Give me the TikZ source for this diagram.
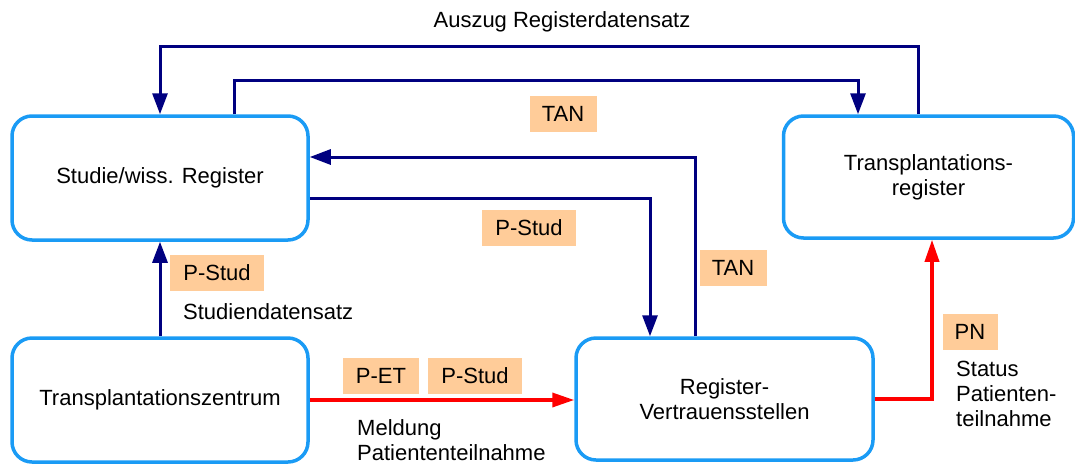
\documentclass[tikz,border=0pt]{standalone}
\usepackage{fontspec}
\setmainfont{Liberation Sans}
\usetikzlibrary{arrows.meta,calc}
\definecolor{boxblue}{HTML}{1A9BF5}
\definecolor{flownavy}{HTML}{000080}
\definecolor{flowred}{HTML}{FF0000}
\definecolor{tagfill}{HTML}{FFCC99}
\begin{document}
\begin{tikzpicture}[x=1pt,y=-1pt,
  font=\fontsize{22}{25}\selectfont,
  party/.style={draw=boxblue, line width=3.5pt, rounded corners=20pt,
    minimum width=296pt, minimum height=124pt, align=center, inner sep=0pt},
  navyflow/.style={draw=flownavy, line width=3pt,
    -{Triangle[length=21pt,width=15pt]}},
  redflow/.style={draw=flowred, line width=3.5pt,
    -{Triangle[length=22pt,width=14pt]}},
  tag/.style={fill=tagfill, minimum height=36pt, inner sep=0pt},
  note/.style={align=left, inner sep=0pt}]
\useasboundingbox (0,0) rectangle (1075,464);

% the four parties
\node[party] (studie) at (160,178) {Studie/wiss. Register};
\node[party] (zentrum) at (160,400) {Transplantationszentrum};
\node[party, minimum width=297pt, minimum height=122pt] (vertrauen) at (724.5,399)
  {Register-\\Vertrauensstellen};
\node[party, minimum width=290pt, minimum height=122pt] (txreg) at (928.5,177)
  {Transplantations-\\register};

% register extract back to the study, and TAN to the register
\draw[navyflow] ($(txreg.north)+(-10.5,0)$) -- ++(0,-68) -| (studie.north);
\draw[navyflow] ($(studie.north)+(74,0)$) -- ++(0,-34) -| ($(txreg.north)+(-70.5,0)$);

% exchanges with the trust centre
\draw[navyflow] ($(vertrauen.north)+(-29.5,0)$) |- ($(studie.east)+(0,-21)$);
\draw[navyflow] ($(studie.east)+(0,20)$) -| ($(vertrauen.north)+(-74.5,0)$);

% study data set from the transplant centre
\draw[navyflow] (zentrum.north) -- (studie.south);

% patient participation reports
\draw[redflow] (zentrum.east) -- (vertrauen.west |- zentrum.east);
\draw[redflow] (vertrauen.east) -| ($(txreg.south)+(3.5,0)$);

% pseudonym tags
\node[tag, minimum width=67pt] (tanTop) at (563,114) {TAN};
\node[tag, minimum width=94pt] (pstudMid) at (529,228) {P-Stud};
\node[tag, minimum width=67pt] (tanRight) at (733,268) {TAN};
\node[tag, minimum width=94pt] (pstudLeft) at (217,273) {P-Stud};
\node[tag, minimum width=76pt] (pet) at (381,376) {P-ET};
\node[tag, minimum width=94pt] (pstudLow) at (475,376) {P-Stud};
\node[tag, minimum width=55pt] (pn) at (970,332) {PN};

% flow descriptions
\node[note] (auszug) at (562,22) {Auszug Registerdatensatz};
\node[note, anchor=west] (studiendaten) at (183,312) {Studiendatensatz};
\node[note, anchor=north west] (meldung) at (357,419) {Meldung\\Patiententeilnahme};
\node[note, anchor=north west] (status) at (956,361) {Status\\Patienten-\\teilnahme};
\end{tikzpicture}
\end{document}
